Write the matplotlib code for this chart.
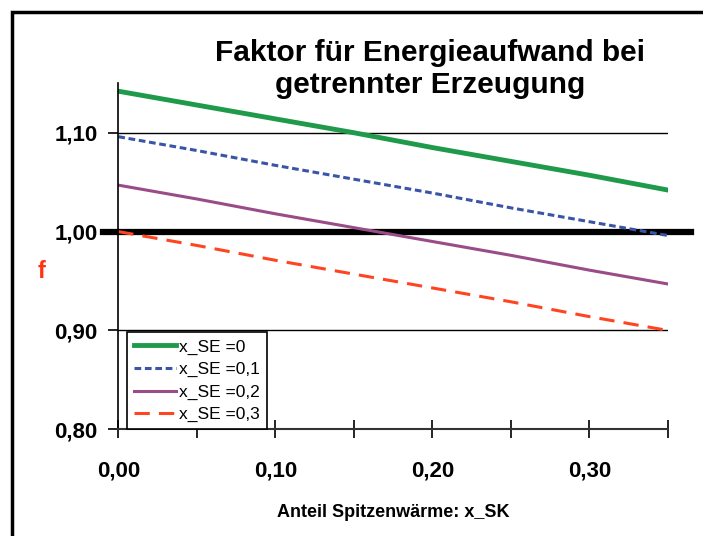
import matplotlib.pyplot as plt
from matplotlib.patches import Rectangle

# Anteil Spitzenwaerme x_SK
x_sk = [0.00, 0.05, 0.10, 0.15, 0.20, 0.25, 0.30, 0.35]

# Faktor f fuer verschiedene x_SE
f_se0 = [1.142, 1.128, 1.114, 1.100, 1.085, 1.071, 1.057, 1.042]
f_se1 = [1.096, 1.082, 1.067, 1.053, 1.039, 1.024, 1.010, 0.996]
f_se2 = [1.047, 1.033, 1.018, 1.004, 0.990, 0.976, 0.961, 0.947]
f_se3 = [1.000, 0.986, 0.971, 0.957, 0.943, 0.929, 0.914, 0.900]
labels = ["x_SE =0", "x_SE =0,1", "x_SE =0,2", "x_SE =0,3"]

yticks = [0.80, 0.90, 1.00, 1.10]

font = ["Liberation Sans", "DejaVu Sans"]
plt.rcParams["font.family"] = font

fig = plt.figure(figsize=(7.03, 5.36), dpi=100)
ax = fig.add_axes([0.1683, 0.199, 0.7819, 0.6456])

# outer chart frame
fig.patches.append(Rectangle((12 / 703, -0.1), 1.2, 1 - 12 / 536 + 0.1,
                             transform=fig.transFigure, fill=False,
                             edgecolor="black", linewidth=2.5))

ax.plot(x_sk, f_se0, color="#1f9a4a", lw=3.5, label=labels[0])
ax.plot(x_sk, f_se1, color="#3a55a8", lw=2.2, ls=(0, (2.2, 1.2)), label=labels[1])
ax.plot(x_sk, f_se2, color="#9a4c88", lw=2.2, label=labels[2])
ax.plot(x_sk, f_se3, color="#ff4422", lw=2.2, ls=(0, (5, 3)), label=labels[3])

# gridlines and thick 1,00 line
for yv in [0.90, 1.10]:
    ax.plot([0, 0.35], [yv, yv], color="black", lw=1, zorder=0)
ax.plot([-0.0097, 0.3647], [1.0, 1.0], color="black", lw=4.5, clip_on=False, zorder=1)

ax.set_xlim(0, 0.35)
ax.set_ylim(0.80, 1.15)
for s in ["top", "right"]:
    ax.spines[s].set_visible(False)
ax.spines["left"].set_linewidth(1.2)
ax.spines["bottom"].set_linewidth(1.5)
ax.spines["bottom"].set_color("#333333")

ax.set_xticks([0.00, 0.05, 0.10, 0.15, 0.20, 0.25, 0.30, 0.35])
ax.set_xticklabels(["0,00", "", "0,10", "", "0,20", "", "0,30", ""])
ax.tick_params(axis="x", direction="inout", length=13, width=1.2, pad=16)
ax.set_yticks(yticks)
ax.set_yticklabels(["0,80", "0,90", "1,00", "1,10"])
ax.tick_params(axis="y", direction="out", length=7, width=1.2, pad=8)
for lab in ax.get_xticklabels() + ax.get_yticklabels():
    lab.set_fontweight("bold")
    lab.set_fontsize(16)

ax.set_xlabel("Anteil Spitzenwärme: x_SK", fontweight="bold",
              fontsize=13, labelpad=16)
fig.text(42 / 703, 1 - 272 / 536, "f", color="#ff3311",
         fontweight="bold", fontsize=17, ha="center", va="center")

fig.text(430 / 703, 1 - 69 / 536, "Faktor für Energieaufwand bei\ngetrennter Erzeugung",
         fontweight="bold", fontsize=21.5, ha="center", va="center",
         linespacing=1.22)

leg = ax.legend(loc="lower left", bbox_to_anchor=(0.016, 0.0), fontsize=12.5,
                frameon=True, fancybox=False, edgecolor="black", framealpha=1,
                handlelength=2.4, handletextpad=0.2, borderpad=0.4,
                labelspacing=0.42, borderaxespad=0)
leg.get_frame().set_linewidth(1.2)

fig.savefig("out.png", dpi=100)
